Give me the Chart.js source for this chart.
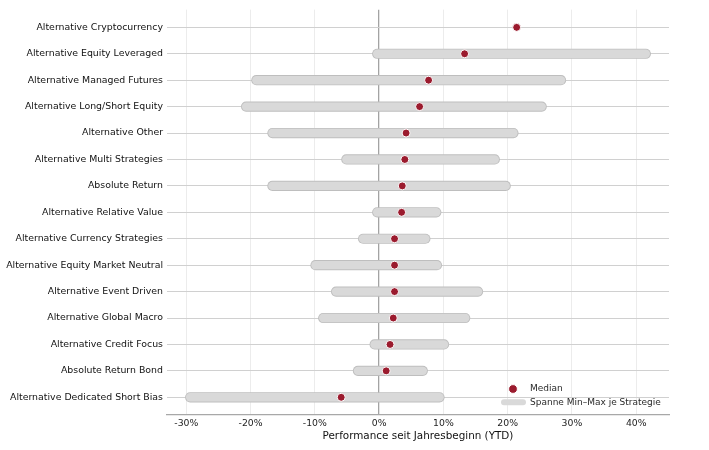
<!DOCTYPE html>
<html>
<head>
<meta charset="utf-8">
<script src="https://cdn.jsdelivr.net/npm/chart.js@4/dist/chart.umd.min.js"></script>
<style>
html,body{margin:0;padding:0;background:#ffffff;}
canvas{display:block;}
</style>
</head>
<body>
<canvas id="c" width="709" height="450"></canvas>
<script>
const categories = [
  "Alternative Cryptocurrency",
  "Alternative Equity Leveraged",
  "Alternative Managed Futures",
  "Alternative Long/Short Equity",
  "Alternative Other",
  "Alternative Multi Strategies",
  "Absolute Return",
  "Alternative Relative Value",
  "Alternative Currency Strategies",
  "Alternative Equity Market Neutral",
  "Alternative Event Driven",
  "Alternative Global Macro",
  "Alternative Credit Focus",
  "Absolute Return Bond",
  "Alternative Dedicated Short Bias"
];
const rangeMin = [null, -0.3, -19.1, -20.7, -16.6, -5.1, -16.6, -0.3, -2.5, -9.9, -6.7, -8.7, -0.7, -3.3, -29.4];
const rangeMax = [null, 41.5, 28.3, 25.3, 20.9, 18.0, 19.7, 8.9, 7.2, 9.0, 15.4, 13.4, 10.1, 6.8, 9.4];
const medians  = [21.4, 13.3, 7.7, 6.3, 4.2, 4.0, 3.6, 3.5, 2.4, 2.4, 2.4, 2.2, 1.7, 1.1, -5.9];
const xTickValues = [-30, -20, -10, 0, 10, 20, 30, 40];
const legendLabels = ["Median", "Spanne Min\u2013Max je Strategie"];

const MEDIAN_COLOR = '#9b1b2e';
const BAR_FILL = '#d9d9d9';
const BAR_EDGE = '#bebebe';

Chart.defaults.font.family = "'DejaVu Sans', sans-serif";

const datasets = [];
datasets.push({
  type: 'scatter',
  label: legendLabels[0],
  data: medians.map((m, i) => ({x: m, y: i})),
  pointRadius: 4,
  pointBorderWidth: 1,
  pointBorderColor: '#ffffff',
  pointBackgroundColor: MEDIAN_COLOR,
  showLine: false,
  order: 0
});
categories.forEach((c, i) => {
  if (rangeMin[i] === null || rangeMax[i] === null) return;
  const pts = [{x: rangeMin[i], y: i}, {x: rangeMax[i], y: i}];
  datasets.push({
    type: 'line', data: pts, borderColor: BAR_FILL, borderWidth: 8.4,
    borderCapStyle: 'round', pointRadius: 0, fill: false, order: 1
  });
  datasets.push({
    type: 'line', data: pts, borderColor: BAR_EDGE, borderWidth: 10.2,
    borderCapStyle: 'round', pointRadius: 0, fill: false, order: 2
  });
});

const legendPlugin = {
  id: 'customLegend',
  afterDraw(chart) {
    const ctx = chart.ctx, ca = chart.chartArea;
    ctx.save();
    ctx.beginPath();
    ctx.arc(ca.right - 156, ca.bottom - 26, 4.4, 0, Math.PI * 2);
    ctx.fillStyle = MEDIAN_COLOR;
    ctx.fill();
    ctx.lineWidth = 1;
    ctx.strokeStyle = '#ffffff';
    ctx.stroke();
    ctx.beginPath();
    ctx.lineCap = 'round';
    ctx.lineWidth = 6;
    ctx.strokeStyle = BAR_FILL;
    ctx.moveTo(ca.right - 165, ca.bottom - 12.7);
    ctx.lineTo(ca.right - 146, ca.bottom - 12.7);
    ctx.stroke();
    ctx.fillStyle = '#2a2a2a';
    ctx.font = "9px 'DejaVu Sans', sans-serif";
    ctx.textBaseline = 'middle';
    ctx.textAlign = 'left';
    ctx.fillText(legendLabels[0], ca.right - 139, ca.bottom - 26);
    ctx.fillText(legendLabels[1], ca.right - 139, ca.bottom - 12.7);
    ctx.restore();
  }
};

new Chart(document.getElementById('c'), {
  type: 'line',
  data: { datasets },
  plugins: [legendPlugin],
  options: {
    responsive: false,
    animation: false,
    layout: { padding: { top: 8, right: 40, left: 0, bottom: 0 } },
    plugins: { legend: { display: false }, tooltip: { enabled: false } },
    scales: {
      x: {
        type: 'linear',
        position: 'bottom',
        min: -33,
        max: 45.1,
        afterBuildTicks(scale) { scale.ticks = xTickValues.map(v => ({value: v})); },
        afterFit(scale) { scale.height = 35; },
        ticks: {
          callback: v => v + '%',
          font: { size: 9.3 },
          color: '#1e1e1e',
          padding: 3,
          maxRotation: 0
        },
        grid: {
          drawTicks: false,
          color: c => (c.tick && c.tick.value === 0) ? '#a3a3a3' : '#ececec',
          lineWidth: c => (c.tick && c.tick.value === 0) ? 1.3 : 1
        },
        border: { display: true, color: '#a8a8a8', width: 1.2 },
        title: {
          display: true,
          text: 'Performance seit Jahresbeginn (YTD)',
          font: { size: 10.4 },
          color: '#111111',
          padding: { top: 0, bottom: 7 }
        }
      },
      y: {
        type: 'linear',
        reverse: true,
        min: -0.67,
        max: 14.67,
        afterBuildTicks(scale) { scale.ticks = categories.map((_, i) => ({value: i})); },
        afterFit(scale) { scale.width = 167; },
        ticks: {
          autoSkip: false,
          callback: v => categories[v],
          font: { size: 9.4 },
          color: '#111111',
          padding: 4
        },
        grid: { drawTicks: false, color: '#d0d0d0', lineWidth: 1 },
        border: { display: false }
      }
    }
  }
});
</script>
</body>
</html>
